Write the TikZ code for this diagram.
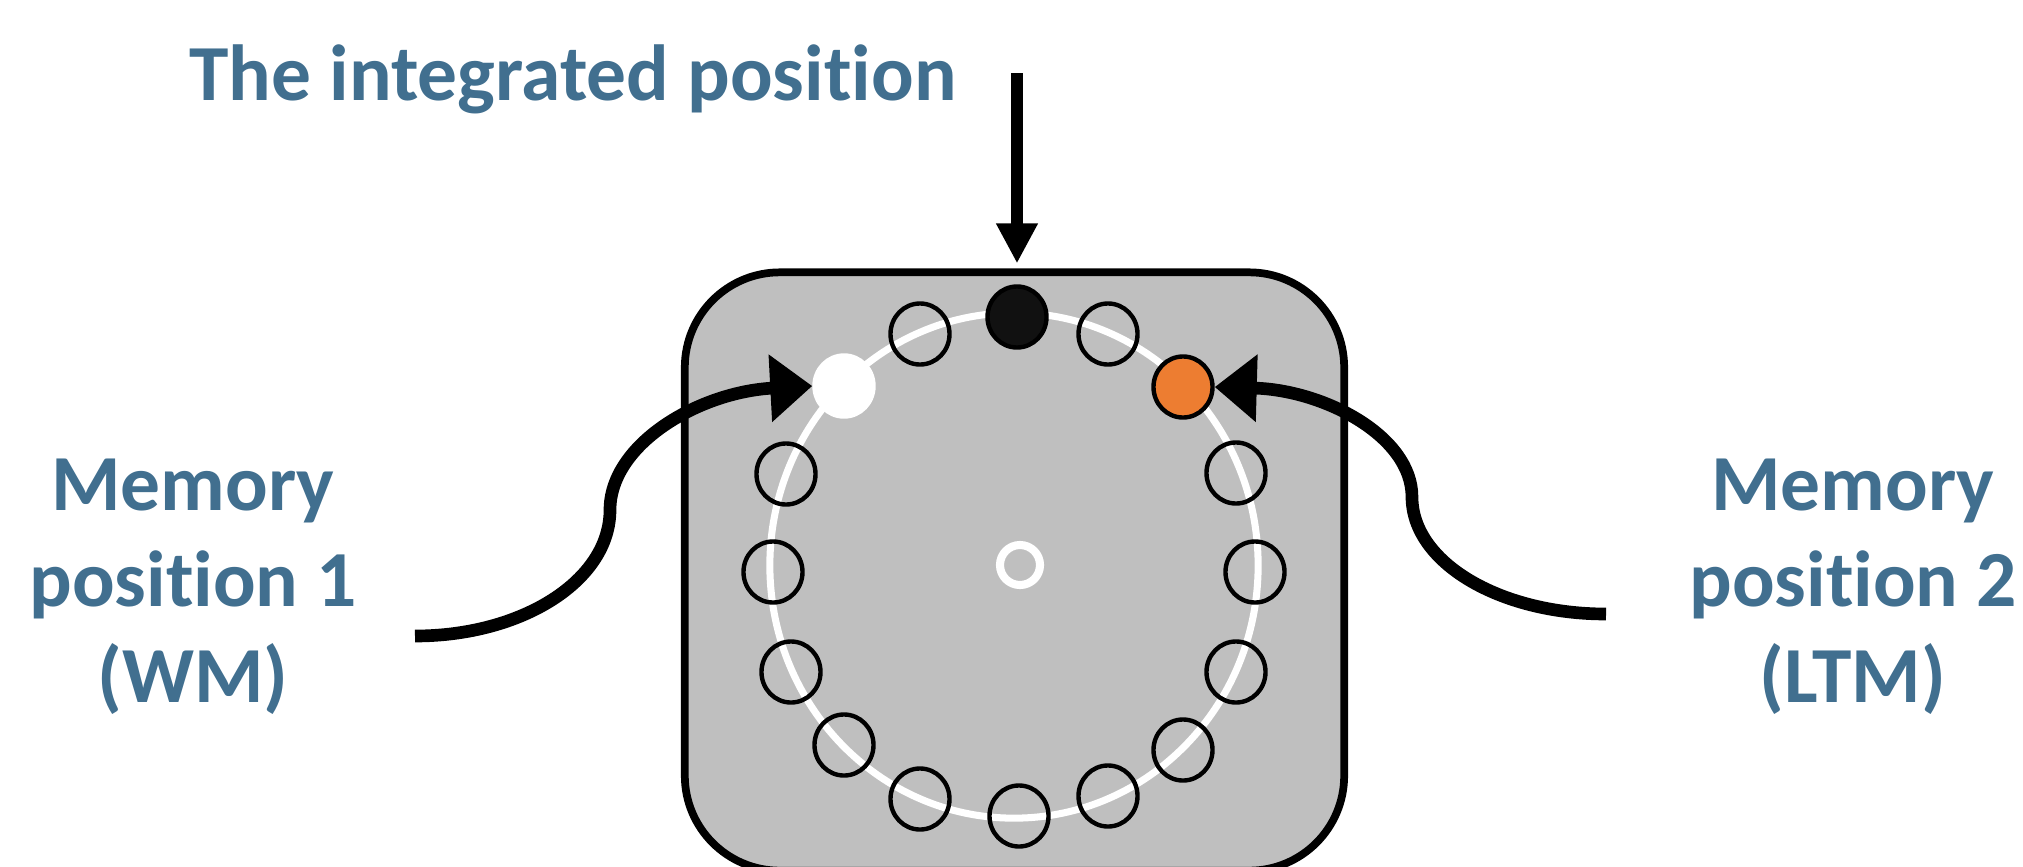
\documentclass[tikz,border=0pt]{standalone}
\usepackage{fontspec}
\setmainfont{Carlito}[Ligatures=NoCommon]
\usetikzlibrary{arrows.meta,shapes.geometric}

\definecolor{labelblue}{RGB}{65,111,143}
\definecolor{panelgray}{RGB}{191,191,191}
\definecolor{hitorange}{RGB}{237,125,49}
\definecolor{inkblack}{RGB}{17,17,17}

\begin{document}
\begin{tikzpicture}[x=0.01cm, y=-0.01cm,
  caption/.style={font=\fontsize{22.6}{27.3}\selectfont\bfseries, text=labelblue,
    align=center, inner sep=0pt},
  panel/.style={draw=black, line width=2.2pt, fill=panelgray, rounded corners=0.95cm,
    minimum width=6.59cm, minimum height=5.98cm, inner sep=0pt},
  track/.style={ellipse, draw=white, line width=2pt, minimum width=4.88cm,
    minimum height=5.05cm, inner sep=0pt},
  hub/.style={circle, draw=white, line width=2.3pt, minimum size=0.40cm, inner sep=0pt},
  slot/.style={ellipse, draw=black, line width=1.25pt, minimum width=0.59cm,
    minimum height=0.61cm, inner sep=0pt},
  conn/.style={line width=3.6pt, draw=black},
  bigtip/.style={-{Triangle[length=0.42cm, width=0.65cm]}},
  smalltip/.style={-{Triangle[length=0.40cm, width=0.39cm]}}
]
\useasboundingbox (0,0) rectangle (2023,866);
\clip (0,0) rectangle (2023,866);

% panel holding the ring of positions
\node[panel] (panel) at (1014.5,571.5) {};
\node[track] (track) at (1014,565.5) {};
\node[hub] (hub) at (1020,565) {};

% empty positions, clockwise from the top
\foreach \px/\py/\nm in {1108/334/s1, 1236/473/s3, 1255/572/s4, 1236/672/s5,
    1183/750/s6, 1108/796/s7, 1019/816/s8, 920/799/s9, 844/745/s10,
    791/672/s11, 773/572/s12, 786/474/s13, 920/334/s15}
  \node[slot] (\nm) at (\px,\py) {};

% marked positions
\node[slot, fill=inkblack] (s0) at (1017,317) {};
\node[slot, fill=hitorange] (s2) at (1183,387) {};
\node[slot, draw=white, fill=white] (s14) at (844,386) {};

% labels
\node[caption, anchor=base] (title) at (573,100) {The integrated position};
\node[caption, anchor=base] (wm) at (193,702) {Memory\\position 1\\(WM)};
\node[caption, anchor=base] (ltm) at (1853,702) {Memory\\position 2\\(LTM)};

% connectors
\coordinate (toptail) at (1017,73);
\coordinate (wmtail) at (415,636);
\coordinate (ltmtail) at (1606,614);

\draw[conn, smalltip, shorten >=0.05cm] (toptail) -- (toptail |- panel.north);
\draw[conn, bigtip] (wmtail) .. controls (523,636) and (610,580) .. (610,510)
  .. controls (610,444) and (699,392) .. (s14.west);
\draw[conn, bigtip] (ltmtail) .. controls (1499,614) and (1412,562) .. (1412,497)
  .. controls (1412,436) and (1324,390) .. (s2.east);
\end{tikzpicture}
\end{document}
